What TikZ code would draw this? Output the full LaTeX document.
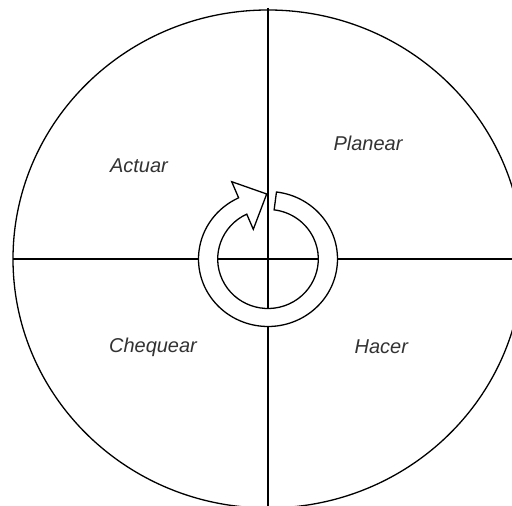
\documentclass[tikz,border=0pt]{standalone}
\usepackage{fontspec}
\setmainfont{Liberation Sans}
\usetikzlibrary{calc}
\begin{document}
\begin{tikzpicture}[x=1pt,y=1pt,
  lbl/.style={font=\fontsize{20}{22}\selectfont\itshape, text=black!80, inner sep=0pt, anchor=base},
  ln/.style={line width=1.3pt, black}]
\fill[white] (0,0) rectangle (512,506);
\useasboundingbox (0,0) rectangle (512,506);
\clip (0,0) rectangle (512,506);
\coordinate (C) at (268,247);
\coordinate (L) at (13,247);
\coordinate (R) at (530,247);
\coordinate (T) at (268,498);
\coordinate (B) at (268,-10);
% outer ellipse
\draw[ln] (C) ellipse [x radius=255, y radius=249];
% cross
\draw[ln] (L) -- (R);
\draw[ln] (T) -- (B);
% circular arrow
\draw[ln, fill=white]
  ($(C)+(83:69.5 and 67.5)$) arc[start angle=83, end angle=-245, x radius=69.5, y radius=67.5]
  -- (231.7,324.3) -- (266.7,312) -- (253.3,276.7)
  -- ($(C)+(115:50.3 and 49.5)$) arc[start angle=115, end angle=443, x radius=50.3, y radius=49.5]
  -- cycle;
% labels
\node[lbl] (act) at (139,333.3) {Actuar};
\node[lbl] (pla) at (368,355.3) {Planear};
\node[lbl] (che) at (153,153) {Chequear};
\node[lbl] (hac) at (381.3,152) {Hacer};
\end{tikzpicture}
\end{document}
